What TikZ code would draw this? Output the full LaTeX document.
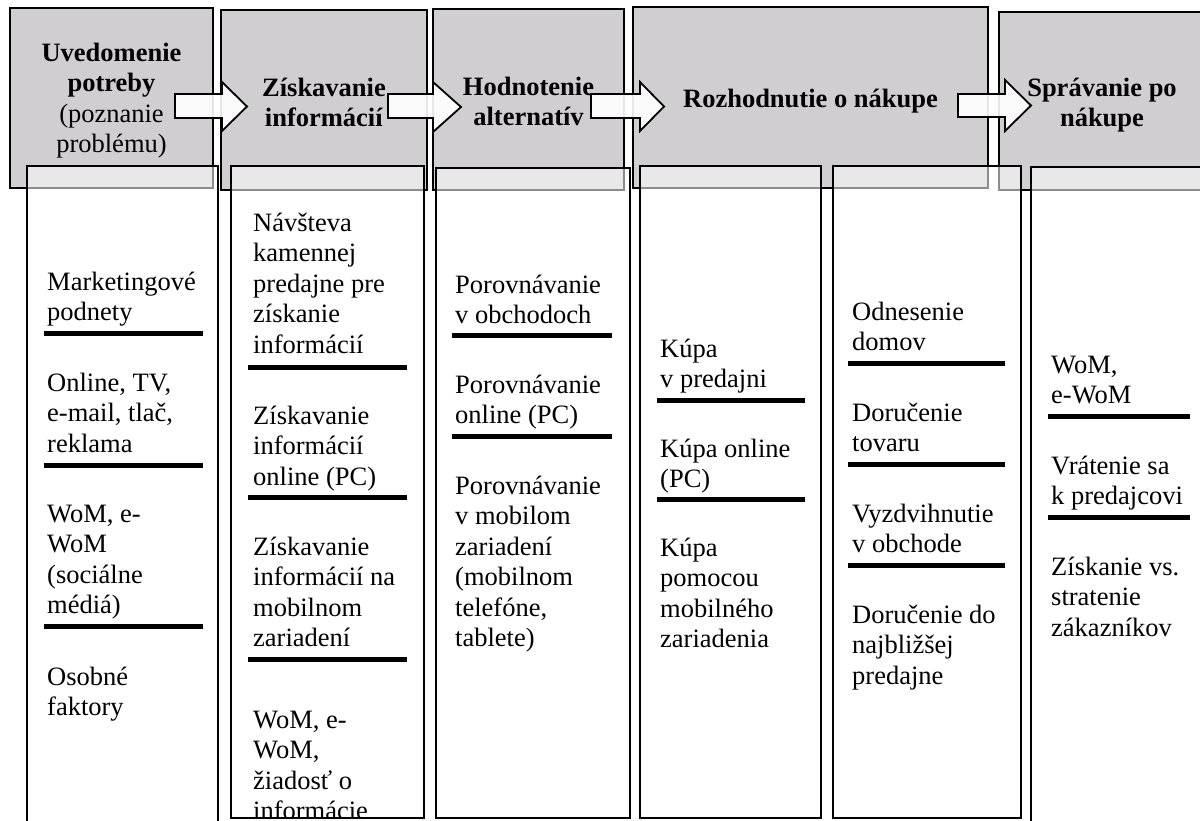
\documentclass[tikz,border=0pt]{standalone}
\usepackage{fontspec}
\setmainfont{Liberation Serif}
\definecolor{hdrgray}{RGB}{208,206,208}
\newcommand{\hdstrut}{\rule{0pt}{22pt}}
\begin{document}
\begin{tikzpicture}[x=1pt,y=-1pt,
  hdr/.style={draw=black, line width=2.5pt, fill=hdrgray, inner sep=0pt, outer sep=0pt},
  col/.style={draw=black, line width=2.5pt, fill=white, fill opacity=0.55, inner sep=0pt, outer sep=0pt},
  arw/.style={draw=black, line width=1.8pt, fill=white, fill opacity=0.9, line join=miter},
  htext/.style={anchor=north, align=center, inner sep=0pt, font=\fontsize{26.5}{30.5}\selectfont},
  ctext/.style={anchor=north west, align=left, inner sep=0pt, font=\fontsize{26.5}{30.5}\selectfont},
  bar/.style={line width=5pt, black}]
\useasboundingbox (0,0) rectangle (1200,820);

% stage headers
\node[hdr, minimum width=203pt, minimum height=180pt] (h1) at (111.5,98) {};
\node[hdr, minimum width=206pt, minimum height=180pt] (h2) at (324,100) {};
\node[hdr, minimum width=191pt, minimum height=181pt] (h3) at (528.5,99.5) {};
\node[hdr, minimum width=355pt, minimum height=181pt] (h4) at (810.5,97.5) {};
\node[hdr, minimum width=211pt, minimum height=178pt] (h5) at (1104.5,101) {};

% detail columns, laid over the headers
\node[col, minimum width=191pt, minimum height=674pt] (c1) at (122.5,503) {};
\node[col, minimum width=193pt, minimum height=652pt] (c2) at (327.5,492) {};
\node[col, minimum width=194pt, minimum height=650pt] (c3) at (533,493) {};
\node[col, minimum width=181pt, minimum height=652pt] (c4) at (730.5,492) {};
\node[col, minimum width=188pt, minimum height=652pt] (c5) at (927,492) {};
\node[col, minimum width=189pt, minimum height=673pt] (c6) at (1125.5,503.5) {};

% block arrows between the stages
\path[arw] (175,94) -- (222,94) -- (222,82) -- (247,106.5) -- (222,131) -- (222,118) -- (175,118) -- cycle;
\path[arw] (388,94) -- (433,94) -- (433,82) -- (461,107) -- (433,132) -- (433,118) -- (388,118) -- cycle;
\path[arw] (591,94) -- (640,94) -- (640,82) -- (664,106.5) -- (640,131) -- (640,118) -- (591,118) -- cycle;
\path[arw] (958,94) -- (1005,94) -- (1005,80) -- (1031,105.5) -- (1005,131) -- (1005,117) -- (958,117) -- cycle;

% header titles
\node[htext] (t1) at (111.5,39) {\hdstrut\textbf{Uvedomenie}\\\textbf{potreby}\\(poznanie\\problému)};
\node[htext] (t2) at (324,74) {\hdstrut\textbf{Získavanie}\\\textbf{informácií}};
\node[htext] (t3) at (528.5,73) {\hdstrut\textbf{Hodnotenie}\\\textbf{alternatív}};
\node[htext] (t4) at (810.5,85) {\hdstrut\textbf{Rozhodnutie o nákupe}};
\node[htext] (t5) at (1102,74) {\hdstrut\textbf{Správanie po}\\\textbf{nákupe}};

% column 1
\node[ctext] (p11) at (47,268) {\hdstrut Marketingové\\podnety};
\draw[bar] (44,333) -- (203,333);
\node[ctext] (p12) at (47,369) {\hdstrut Online, TV,\\e-mail, tlač,\\reklama};
\draw[bar] (44,465) -- (203,465);
\node[ctext] (p13) at (47,500) {\hdstrut WoM, e-\\WoM\\(sociálne\\médiá)};
\draw[bar] (44,626) -- (203,626);
\node[ctext] (p14) at (47,663) {\hdstrut Osobné\\faktory};

% column 2
\node[ctext] (p21) at (253,209) {\hdstrut Návšteva\\kamennej\\predajne pre\\získanie\\informácií};
\draw[bar] (248,367) -- (407,367);
\node[ctext] (p22) at (253,402) {\hdstrut Získavanie\\informácií\\online (PC)};
\draw[bar] (248,497) -- (407,497);
\node[ctext] (p23) at (253,533) {\hdstrut Získavanie\\informácií na\\mobilnom\\zariadení};
\draw[bar] (248,659) -- (407,659);
\begin{scope}
  \clip ([xshift=1.25pt,yshift=1.25pt]c2.south west) rectangle ([xshift=-1.25pt]c2.north east);
  \node[ctext] (p24) at (253,706) {\hdstrut WoM, e-\\WoM,\\žiadosť o\\informácie};
\end{scope}

% column 3
\node[ctext] (p31) at (455,271) {\hdstrut Porovnávanie\\v obchodoch};
\draw[bar] (452,335) -- (612,335);
\node[ctext] (p32) at (455,371) {\hdstrut Porovnávanie\\online (PC)};
\draw[bar] (452,436) -- (612,436);
\node[ctext] (p33) at (455,472) {\hdstrut Porovnávanie\\v mobilom\\zariadení\\(mobilnom\\telefóne,\\tablete)};

% column 4
\node[ctext] (p41) at (660,335) {\hdstrut Kúpa\\v predajni};
\draw[bar] (657,400) -- (805,400);
\node[ctext] (p42) at (660,435) {\hdstrut Kúpa online\\(PC)};
\draw[bar] (657,499) -- (805,499);
\node[ctext] (p43) at (660,534) {\hdstrut Kúpa\\pomocou\\mobilného\\zariadenia};

% column 5
\node[ctext] (p51) at (852,298) {\hdstrut Odnesenie\\domov};
\draw[bar] (848,363) -- (1005,363);
\node[ctext] (p52) at (852,399) {\hdstrut Doručenie\\tovaru};
\draw[bar] (848,464) -- (1005,464);
\node[ctext] (p53) at (852,500) {\hdstrut Vyzdvihnutie\\v obchode};
\draw[bar] (848,565) -- (1005,565);
\node[ctext] (p54) at (852,601) {\hdstrut Doručenie do\\najbližšej\\predajne};

% column 6
\node[ctext] (p61) at (1051,351) {\hdstrut WoM,\\e-WoM};
\draw[bar] (1048,416) -- (1190,416);
\node[ctext] (p62) at (1051,452) {\hdstrut Vrátenie sa\\k predajcovi};
\draw[bar] (1048,517) -- (1190,517);
\node[ctext] (p63) at (1051,553) {\hdstrut Získanie vs.\\stratenie\\zákazníkov};
\end{tikzpicture}
\end{document}
